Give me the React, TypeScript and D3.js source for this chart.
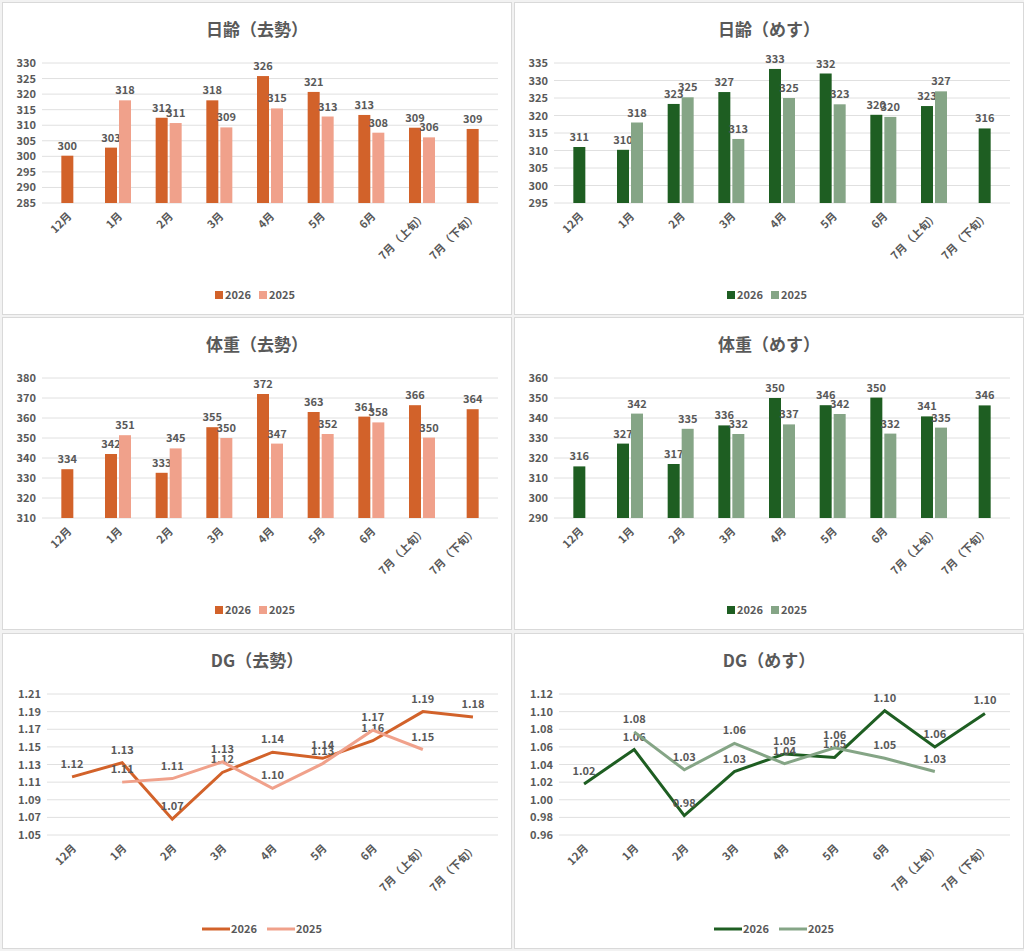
import React from "react";
import * as d3 from "d3";

const categories = ["12月", "1月", "2月", "3月", "4月", "5月", "6月", "7月（上旬）", "7月（下旬）"];

const ageSteer2026 = [300.2, 302.8, 312.4, 318, 325.8, 320.7, 313.3, 309.2, 308.8];
const ageSteer2025: (number | null)[] = [null, 318, 310.7, 309.3, 315.4, 312.8, 307.6, 306.1, null];
const ageHeifer2026 = [311, 310.2, 323.3, 326.7, 333.3, 332, 320.2, 322.7, 316.3];
const ageHeifer2025: (number | null)[] = [null, 318, 325.2, 313.3, 325, 323.2, 319.6, 326.9, null];
const wtSteer2026 = [334.4, 342, 332.6, 355.4, 372, 363, 360.7, 366.4, 364.4];
const wtSteer2025: (number | null)[] = [null, 351.4, 344.8, 350, 347.2, 352, 357.8, 350.2, null];
const wtHeifer2026 = [315.8, 327.2, 317, 336.3, 350, 346.4, 350.2, 340.8, 346.3];
const wtHeifer2025: (number | null)[] = [null, 342.2, 334.6, 332, 336.8, 342, 332.2, 335.2, null];
const dgSteer2026 = [1.116, 1.132, 1.068, 1.121, 1.144, 1.137, 1.157, 1.19, 1.184];
const dgSteer2025: (number | null)[] = [null, 1.11, 1.114, 1.133, 1.103, 1.131, 1.169, 1.147, null];
const dgHeifer2026 = [1.018, 1.057, 0.982, 1.032, 1.052, 1.048, 1.101, 1.06, 1.098];
const dgHeifer2025: (number | null)[] = [null, 1.077, 1.034, 1.064, 1.041, 1.059, 1.047, 1.032, null];

const ORANGE = ["#d2622a", "#f0a18b"];
const GREEN = ["#1e5e22", "#85a586"];
const FONT = "'Noto Sans CJK JP', 'Noto Sans', sans-serif";
const TXT = "#595959";

type P = {
  x: number; y: number; w: number; h: number; title: string; kind: "bar" | "line";
  s26: (number | null)[]; s25: (number | null)[]; colors: string[];
  min: number; max: number; step: number; dec: number;
};

function Panel(p: P) {
  const isLine = p.kind === "line";
  const left = isLine ? 45 : 40;
  const right = p.w - 14;
  const top = 61;
  const bottom = isLine ? 202 : 201;
  const xb = d3.scaleBand<string>().domain(categories).range([left, right]);
  const y = d3.scaleLinear().domain([p.min, p.max]).range([bottom, top]);
  const ticks = d3.range(p.min, p.max + p.step / 2, p.step);
  const bw = 12;
  const fmt = (v: number) => v.toFixed(p.dec);
  const series = [p.s26, p.s25];
  return (
    <g transform={`translate(${p.x},${p.y})`} fontFamily={FONT} fill={TXT} fontWeight="bold">
      <rect x={0.5} y={0.5} width={p.w - 1} height={p.h - 1} fill="#fff" stroke="#d9d9d9" />
      <text x={p.w / 2} y={34} textAnchor="middle" fontSize={17}>{p.title}</text>
      {ticks.map((t) => (
        <g key={t}>
          <line x1={left} x2={right} y1={y(t)} y2={y(t)} stroke="#e0e0e0" strokeWidth={1} />
          <text x={left - 6} y={y(t) + 4} textAnchor="end" fontSize={11}>{fmt(t)}</text>
        </g>
      ))}
      {categories.map((c) => {
        const cx = xb(c)! + xb.bandwidth() / 2;
        return (
          <text key={c} transform={`translate(${cx + 5},${bottom + 14}) rotate(-45)`} textAnchor="end" fontSize={11}>{c}</text>
        );
      })}
      {!isLine && series.map((s, si) =>
        s.map((v, i) => {
          if (v == null) return null;
          const cx = xb(categories[i])! + xb.bandwidth() / 2;
          const other = series[1 - si][i];
          const bx = other == null ? cx - bw / 2 : si === 0 ? cx - bw - 1 : cx + 1;
          return (
            <g key={`${si}-${i}`}>
              <rect x={bx} y={y(v)} width={bw} height={bottom - y(v)} fill={p.colors[si]} />
              <text x={bx + bw / 2} y={y(v) - 6} textAnchor="middle" fontSize={11}>{Math.round(v)}</text>
            </g>
          );
        })
      )}
      {isLine && series.map((s, si) => {
        const pts = s.map((v, i) => [xb(categories[i])! + xb.bandwidth() / 2, v] as [number, number | null]);
        const line = d3.line<[number, number | null]>().defined((d) => d[1] != null).x((d) => d[0]).y((d) => y(d[1] as number));
        return (
          <g key={si}>
            <path d={line(pts) || ""} fill="none" stroke={p.colors[si]} strokeWidth={3} />
            {pts.map(([px, v], i) => v == null ? null : (
              <text key={i} x={px} y={y(v) - 9} textAnchor="middle" fontSize={11}>{fmt(v)}</text>
            ))}
          </g>
        );
      })}
      <g transform={`translate(${p.w / 2},${p.h - 20})`} fontSize={11}>
        {isLine ? (
          <>
            <line x1={-55} x2={-27} y1={0} y2={0} stroke={p.colors[0]} strokeWidth={3} />
            <text x={-26} y={4}>2026</text>
            <line x1={10} x2={38} y1={0} y2={0} stroke={p.colors[1]} strokeWidth={3} />
            <text x={39} y={4}>2025</text>
          </>
        ) : (
          <>
            <rect x={-42} y={-4} width={8} height={8} fill={p.colors[0]} />
            <text x={-32} y={4}>2026</text>
            <rect x={2} y={-4} width={8} height={8} fill={p.colors[1]} />
            <text x={12} y={4}>2025</text>
          </>
        )}
      </g>
    </g>
  );
}

export default function App() {
  const W = 510, H = 313;
  const xs = [2, 514];
  const ys = [2, 317, 633];
  return (
    <svg width={1024} height={951} style={{ position: "absolute", left: 0, top: 0, background: "#f2f2f2" }}>
      <Panel x={xs[0]} y={ys[0]} w={W} h={H} title="日齢（去勢）" kind="bar" s26={ageSteer2026} s25={ageSteer2025} colors={ORANGE} min={285} max={330} step={5} dec={0} />
      <Panel x={xs[1]} y={ys[0]} w={W} h={H} title="日齢（めす）" kind="bar" s26={ageHeifer2026} s25={ageHeifer2025} colors={GREEN} min={295} max={335} step={5} dec={0} />
      <Panel x={xs[0]} y={ys[1]} w={W} h={H} title="体重（去勢）" kind="bar" s26={wtSteer2026} s25={wtSteer2025} colors={ORANGE} min={310} max={380} step={10} dec={0} />
      <Panel x={xs[1]} y={ys[1]} w={W} h={H} title="体重（めす）" kind="bar" s26={wtHeifer2026} s25={wtHeifer2025} colors={GREEN} min={290} max={360} step={10} dec={0} />
      <Panel x={xs[0]} y={ys[2]} w={W} h={316} title="DG（去勢）" kind="line" s26={dgSteer2026} s25={dgSteer2025} colors={ORANGE} min={1.05} max={1.21} step={0.02} dec={2} />
      <Panel x={xs[1]} y={ys[2]} w={W} h={316} title="DG（めす）" kind="line" s26={dgHeifer2026} s25={dgHeifer2025} colors={GREEN} min={0.96} max={1.12} step={0.02} dec={2} />
    </svg>
  );
}
